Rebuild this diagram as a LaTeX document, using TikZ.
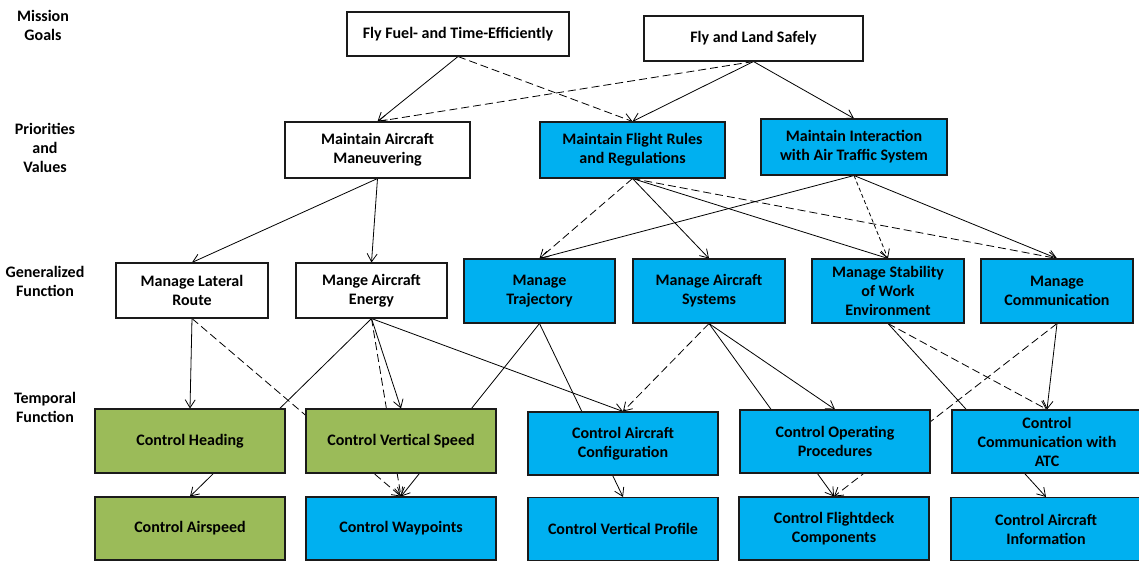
\documentclass[tikz,border=0pt]{standalone}
\usepackage{fontspec}
\setmainfont{Carlito}
\usepackage{tikz}
\usetikzlibrary{arrows.meta,positioning,backgrounds}
\definecolor{ink}{HTML}{1A1A1A}
\definecolor{skyfill}{HTML}{00B0F0}
\definecolor{leaffill}{HTML}{9BBB59}
\tikzset{
  boxsize/.style 2 args={minimum width=#1*0.75pt,minimum height=#2*0.75pt},
  goalbox/.style={draw=ink,fill=white,line width=0.8pt,
                  align=center,font=\fontsize{12}{14.25}\selectfont\bfseries,inner sep=2pt},
  skybox/.style={goalbox,fill=skyfill},
  leafbox/.style={goalbox,fill=leaffill},
  levellabel/.style={align=center,font=\fontsize{12}{14.25}\selectfont\bfseries},
  arr/.style={-{Straight Barb[length=6pt,width=7.5pt]},line width=0.6pt,color=black},
  dasharr/.style={arr,dash pattern=on 6pt off 3pt},
  dotarr/.style={arr,dash pattern=on 3pt off 2pt}
}

\begin{document}
\begin{tikzpicture}[x=0.75pt,y=-0.75pt]
  \useasboundingbox (0,0) rectangle (1139,561);
  % level labels
  \node[levellabel] (lvgoal) at (43,25) {Mission\\Goals};
  \node[levellabel] (lvprio) at (45,148) {Priorities\\and\\Values};
  \node[levellabel] (lvgen) at (45,281) {Generalized\\Function};
  \node[levellabel] (lvtemp) at (45,407) {Temporal\\Function};
  % mission goals
  \node[goalbox,boxsize={222}{44}] (fuel) at (458,34) {Fly Fuel- and Time-Efficiently};
  \node[goalbox,boxsize={219}{45}] (safe) at (753.5,38.5) {Fly and Land Safely};
  % priorities and values
  \node[goalbox,boxsize={185}{56}] (maneuv) at (377.5,150) {Maintain Aircraft\\Maneuvering};
  \node[skybox,boxsize={185}{56}] (rules) at (632.5,150) {Maintain Flight Rules\\and Regulations};
  \node[skybox,boxsize={186}{56}] (inter) at (854,147) {Maintain Interaction\\with Air Traffic System};
  % generalized functions
  \node[goalbox,boxsize={152}{55}] (lateral) at (192,290.5) {Manage Lateral\\Route};
  \node[goalbox,boxsize={151}{55}] (energy) at (371.5,290.5) {Mange Aircraft\\Energy};
  \node[skybox,boxsize={151}{64}] (traj) at (539.5,291) {Manage\\Trajectory};
  \node[skybox,boxsize={152}{64}] (systems) at (709,291) {Manage Aircraft\\Systems};
  \node[skybox,boxsize={152}{64}] (stab) at (888,291) {Manage Stability\\of Work\\Environment};
  \node[skybox,boxsize={152}{64}] (comm) at (1057,291) {Manage\\Communication};
  % temporal functions
  \node[leafbox,boxsize={190}{64}] (heading) at (190,441) {Control Heading};
  \node[leafbox,boxsize={190}{64}] (vspeed) at (401,441) {Control Vertical Speed};
  \node[skybox,boxsize={190}{63}] (config) at (623,443.5) {Control Aircraft\\Configuration};
  \node[skybox,boxsize={190}{63}] (procs) at (835,441.5) {Control Operating\\Procedures};
  \node[skybox,boxsize={190}{63}] (commatc) at (1047,441.5) {Control\\Communication with\\ATC};
  \node[leafbox,boxsize={190}{63}] (airspeed) at (190,528.5) {Control Airspeed};
  \node[skybox,boxsize={190}{63}] (waypoints) at (401,528.5) {Control Waypoints};
  \node[skybox,boxsize={190}{63}] (vprofile) at (623,529) {Control Vertical Profile};
  \node[skybox,boxsize={190}{63}] (flightdeck) at (834,528.5) {Control Flightdeck\\Components};
  \node[skybox,boxsize={190}{63}] (info) at (1046,529) {Control Aircraft\\Information};
  % links, behind the boxes
  \begin{scope}[on background layer]
    \draw[arr] (fuel.south) -- (maneuv.north);
    \draw[dasharr] (fuel.south) -- (rules.north);
    \draw[dasharr] (safe.south) -- (maneuv.north);
    \draw[arr] (safe.south) -- (rules.north);
    \draw[arr] (safe.south) -- (inter.north);
    \draw[arr] (maneuv.south) -- (lateral.north);
    \draw[arr] (maneuv.south) -- (energy.north);
    \draw[dasharr] (rules.south) -- (traj.north);
    \draw[arr] (rules.south) -- (systems.north);
    \draw[arr] (rules.south) -- (stab.north);
    \draw[dasharr] (rules.south) -- (comm.north);
    \draw[arr] (inter.south) -- (traj.north);
    \draw[dotarr] (inter.south) -- (stab.north);
    \draw[arr] (inter.south) -- (comm.north);
    \draw[arr] (lateral.south) -- (heading.north);
    \draw[dasharr] (lateral.south) -- (waypoints.north);
    \draw[arr] (energy.south) -- (airspeed.north);
    \draw[arr] (energy.south) -- (vspeed.north);
    \draw[dasharr] (energy.south) -- (waypoints.north);
    \draw[arr] (energy.south) -- (config.north);
    \draw[arr] (traj.south) -- (waypoints.north);
    \draw[arr] (traj.south) -- (vprofile.north);
    \draw[dasharr] (systems.south) -- (config.north);
    \draw[arr] (systems.south) -- (procs.north);
    \draw[arr] (systems.south) -- (flightdeck.north);
    \draw[arr] (stab.south) -- (info.north);
    \draw[dasharr] (stab.south) -- (commatc.north);
    \draw[arr] (comm.south) -- (commatc.north);
    \draw[dasharr] (comm.south) -- (flightdeck.north);
  \end{scope}
\end{tikzpicture}
\end{document}
